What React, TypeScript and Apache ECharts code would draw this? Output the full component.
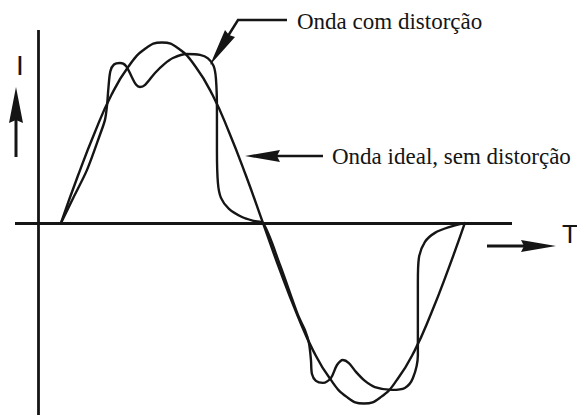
import { useEffect, useRef } from 'react';
import * as echarts from 'echarts';

// Ideal sine wave: [phase in degrees, normalized current]
const idealWave: [number, number][] = [
  [0, 0], [15, 0.26], [30, 0.5], [45, 0.71], [60, 0.865], [75, 0.965], [90, 1.0],
  [105, 0.965], [120, 0.865], [135, 0.71], [150, 0.5], [165, 0.26], [180, 0],
  [195, -0.26], [210, -0.5], [225, -0.71], [240, -0.865], [255, -0.965], [270, -1.0],
  [285, -0.965], [300, -0.865], [315, -0.71], [330, -0.5], [345, -0.26], [360, 0],
];

// Distorted wave (positive half)
const distortedPositive: [number, number][] = [
  [0, 0], [11, 0.14], [23.2, 0.294], [34.8, 0.49], [39.2, 0.571], [41, 0.65], [42.3, 0.75],
  [44, 0.84], [47.2, 0.878], [52.6, 0.886], [57.9, 0.87], [63, 0.81], [67, 0.765],
  [70.4, 0.753], [75, 0.765], [83.8, 0.831], [92, 0.88], [99.8, 0.914], [112, 0.936],
  [123.9, 0.931], [131, 0.912], [136, 0.87], [138.1, 0.8], [139, 0.63], [139, 0.4],
  [139.9, 0.22], [142.6, 0.139], [149.7, 0.078], [161.3, 0.033], [172, 0.011], [180, 0],
];

// Distorted wave (negative half)
const distortedNegative: [number, number][] = [
  [195.2, -0.233], [211.2, -0.51], [217.4, -0.593], [221, -0.665], [222.8, -0.76],
  [223.7, -0.837], [227.2, -0.875], [233.5, -0.886], [240.6, -0.859], [246, -0.787],
  [251.3, -0.759], [256.6, -0.776], [262.9, -0.825], [270.9, -0.875], [279.8, -0.909],
  [295, -0.925], [306.5, -0.914], [313.7, -0.859], [318.1, -0.731], [318.1, -0.51],
  [318.1, -0.327], [319, -0.194], [324.4, -0.105], [333.3, -0.055], [346.6, -0.022], [360, 0],
];

const labelDistorted = 'Onda com distorção';
const labelIdeal = 'Onda ideal, sem distorção';
const labelCurrent = 'I';
const labelTime = 'T';

// Axis extents (degrees / normalized current)
const X_MIN = -41;
const X_MAX = 402;
const Y_MIN = -1.064;
const Y_MAX = 1.069;
const CURRENT_AXIS_AT = -20.5;

export default function App() {
  const ref = useRef<HTMLDivElement>(null);

  useEffect(() => {
    if (!ref.current) return;
    const chart = echarts.init(ref.current, null, { renderer: 'svg' });
    const ink = '#151515';
    const serif = 'Liberation Serif, Times New Roman, DejaVu Serif, serif';
    const sans = 'Liberation Sans, Arial, sans-serif';

    const textStyle = (text: string, size: number, family: string, align: string) => ({
      text,
      fill: ink,
      font: `${size}px ${family}`,
      align,
      verticalAlign: 'middle',
    });

    chart.setOption({
      animation: false,
      backgroundColor: '#ffffff',
      grid: { left: 15, right: 65, top: 30, bottom: 0 },
      xAxis: { type: 'value', min: X_MIN, max: X_MAX, show: false },
      yAxis: { type: 'value', min: Y_MIN, max: Y_MAX, show: false },
      series: [
        {
          type: 'line',
          name: 'Onda ideal',
          data: idealWave,
          smooth: 0.5,
          symbol: 'none',
          silent: true,
          lineStyle: { color: ink, width: 2.4 },
          markLine: {
            silent: true,
            symbol: ['none', 'none'],
            label: { show: false },
            emphasis: { disabled: true },
            lineStyle: { color: ink, width: 2.8, type: 'solid' },
            data: [{ yAxis: 0 }, { xAxis: CURRENT_AXIS_AT }],
          },
        },
        {
          type: 'line',
          name: 'Onda com distorção',
          data: [...distortedPositive, ...distortedNegative],
          smooth: 0.3,
          symbol: 'none',
          silent: true,
          lineStyle: { color: ink, width: 2.4 },
        },
      ],
      graphic: [
        // I label and upward arrow
        { type: 'text', x: 20, y: 65, style: textStyle(labelCurrent, 28, sans, 'center') },
        { type: 'line', shape: { x1: 16, y1: 118, x2: 16, y2: 157 }, style: { stroke: ink, lineWidth: 3 } },
        { type: 'polygon', shape: { points: [[16, 87], [9, 123], [16, 120], [23, 123]] }, style: { fill: ink } },
        // T label and right arrow
        { type: 'text', x: 562, y: 234, style: textStyle(labelTime, 26, sans, 'left') },
        { type: 'line', shape: { x1: 487, y1: 246, x2: 526, y2: 246 }, style: { stroke: ink, lineWidth: 3 } },
        { type: 'polygon', shape: { points: [[556, 246], [521, 240], [524, 246], [521, 252]] }, style: { fill: ink } },
        // Ideal wave leader
        { type: 'line', shape: { x1: 276, y1: 156, x2: 323, y2: 156 }, style: { stroke: ink, lineWidth: 2.5 } },
        { type: 'polygon', shape: { points: [[245, 156], [280, 150], [277, 156], [280, 162]] }, style: { fill: ink } },
        { type: 'text', x: 332, y: 156, style: textStyle(labelIdeal, 23, serif, 'left') },
        // Distorted wave leader
        { type: 'polyline', shape: { points: [[287, 20], [238, 20], [228, 36]] }, style: { stroke: ink, lineWidth: 2.5, fill: null } },
        { type: 'polygon', shape: { points: [[210, 65], [235, 37], [229, 35], [225, 30]] }, style: { fill: ink } },
        { type: 'text', x: 297, y: 21, style: textStyle(labelDistorted, 23, serif, 'left') },
      ],
    });

    return () => chart.dispose();
  }, []);

  return (
    <div
      ref={ref}
      style={{ position: 'fixed', left: 0, top: 0, width: 577, height: 415, background: '#fff' }}
    />
  );
}
